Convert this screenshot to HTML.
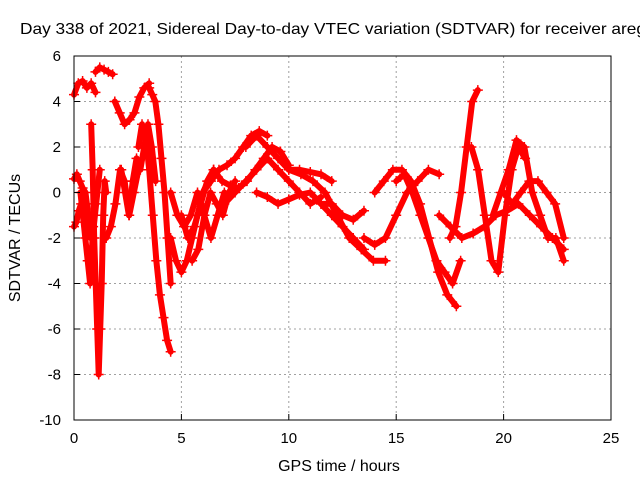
<!DOCTYPE html>
<html><head><meta charset="utf-8"><style>
html,body{margin:0;padding:0;background:#fff;}
svg{display:block;font-family:"Liberation Sans",sans-serif;}
</style></head><body>
<svg id="chart" width="640" height="480" viewBox="0 0 640 480">
<rect width="640" height="480" fill="#fff"/>
<text x="20" y="34" font-size="16" text-anchor="start" textLength="626" lengthAdjust="spacingAndGlyphs">Day 338 of 2021, Sidereal Day-to-day VTEC variation (SDTVAR) for receiver areg</text>
<text x="339" y="471" font-size="16" text-anchor="middle">GPS time / hours</text>
<text transform="translate(20,238) rotate(-90)" font-size="16" text-anchor="middle">SDTVAR / TECUs</text>
<g id="grid"></g><g id="marks"></g><g id="axes"></g>
</svg>
<script>
const xTicks=[0,5,10,15,20,25];
const yTicks=[-10,-8,-6,-4,-2,0,2,4,6];
const arcStart=[0,1.0,0.8,0,0,1.5,1.9,3.5,3.0,4.5,4.5,5.0,6.0,6.5,7.0,8.0,8.5,10.0,11.5,13.5,14.0,15.0,17.5,17.0,18.5,19.5,20.0,2.2,0.3,5.5];
const arcEnd=[1.0,1.8,1.5,1.0,0.8,3.0,3.5,4.5,4.5,6.5,7.0,6.5,9.0,10.0,11.5,12.0,13.5,14.5,13.5,17.0,17.8,18.0,18.8,22.8,21.0,22.8,22.8,3.8,1.2,7.5];
const arcValues=[
[4.3,4.8,4.9,4.6,4.8,4.4],
[5.3,5.5,5.4,5.3,5.2],
[3,1,-2,-4,-6,-8,-6,-4,-1,0.5,0],
[-1.5,-1.3,-0.8,-0.5,0,-0.5,-1,-2,-1.5,-0.5],
[0.6,0.8,0.5,0.2,0,-1,-2],
[-2,-1.5,-0.5,1,0.5,-1,0,1],
[4,3.5,3,3.2,3.5,4.2,4.6,4.8],
[4.6,4.3,4,3,1.5,0,-2,-4],
[2,3,2.5,1,-1,-3,-4.5,-5.5,-6.5,-7],
[-2,-3,-3.5,-3,-2,-1,0,0.5,1],
[0,-1,-1.5,-1,0,-1,-2,-1,0],
[-1,-2,-1.5,-0.5,0.5,1],
[0,0.5,1,1.2,1.5,2,2.5,2.7,2.5],
[1,0.5,0.3,0.2,0.5,1,1.5,2,1.8,1.2],
[-0.5,0,0.5,1,1.5,1,0.5,0,-0.5,-0.2],
[2,2.5,2,1.5,1,1,0.9,0.8,0.5],
[0,-0.2,-0.5,-0.3,-0.1,0,-0.5,-1,-1.5,-2,-2.5],
[1,0.8,0.5,0,-1,-2,-2.5,-3,-3],
[-0.5,-0.5,-1,-1.2,-0.8],
[-2,-2.3,-2,-1,0,0.5,1,0.8],
[0,0.5,1,1,0.5,-0.5,-2,-3.5,-4.5,-5],
[0.5,0.8,0,-1,-2,-3,-3.5,-4,-3],
[-2,-1.5,0,2,4,4.5],
[-1,-1.5,-2,-1.8,-1.5,-1,-0.8,-0.5,-1,-1.5,-2,-2.5],
[2,1,-1,-3,-3.5,-1,1,2,1.5],
[-1,0,1,2.3,2,0,-1,-2,-2,-3],
[0,-0.5,0,0.5,0.5,0,-0.5,-2],
[1,0,-1,0.5,1.5,1,2,3,2,0.5],
[0,-1,-2,-3,-4,-2,-1,0,1],
[-3,-2.5,-1,0,-0.5,-1,0,0.5]
];
const L=74,R=611,T=56,B=420;
const xs=v=>L+(v-0)/25*(R-L);
const ys=v=>B-(v+10)/16*(B-T);
const NS="http://www.w3.org/2000/svg";
function mk(tag,at,parent){const e=document.createElementNS(NS,tag);for(const k in at)e.setAttribute(k,at[k]);parent.appendChild(e);return e;}
const grid=document.getElementById('grid'),axes=document.getElementById('axes'),marks=document.getElementById('marks');
xTicks.forEach(t=>{
  if(t>0&&t<25){const g=mk('line',{x1:xs(t),x2:xs(t),y1:T,y2:B,stroke:'#a0a0a0','stroke-dasharray':'2,3'},grid);
  
  }
  const tk=mk('line',{x1:xs(t),x2:xs(t),y1:B,y2:B-6,stroke:'#000'},axes);
  
  
  const lb=mk('text',{x:xs(t),y:B+23,'font-size':15,'text-anchor':'middle'},axes);lb.textContent=t;
  
  
});
yTicks.forEach(t=>{
  if(t>-10&&t<6){const g=mk('line',{x1:L,x2:R,y1:ys(t),y2:ys(t),stroke:'#a0a0a0','stroke-dasharray':'2,3'},grid);
  
  }
  const tk=mk('line',{x1:L,x2:L+6,y1:ys(t),y2:ys(t),stroke:'#000'},axes);
  
  
  const lb=mk('text',{x:L-13,y:ys(t)+5,'font-size':15,'text-anchor':'end'},axes);lb.textContent=t;
  
  
});
const fr=mk('rect',{x:L,y:T,width:R-L,height:B-T,fill:'none',stroke:'#000'},axes);


arcValues.forEach((vals,i)=>{
  const n=vals.length,t0=arcStart[i],t1=arcEnd[i];
  const pts=vals.map((v,j)=>[xs(t0+(t1-t0)*j/(n-1)),ys(v)]);
  const pl=mk('polyline',{points:pts.map(p=>p.join(',')).join(' '),fill:'none',stroke:'#f00','stroke-width':6,'stroke-linejoin':'round','stroke-linecap':'round'},marks);
  
  
  pts.forEach(p=>{
    const m=mk('path',{d:`M${p[0]-5},${p[1]}h10M${p[0]},${p[1]-5}v10`,stroke:'#f00','stroke-width':1.5},marks);
    
    
  });
});
</script>
</body></html>
